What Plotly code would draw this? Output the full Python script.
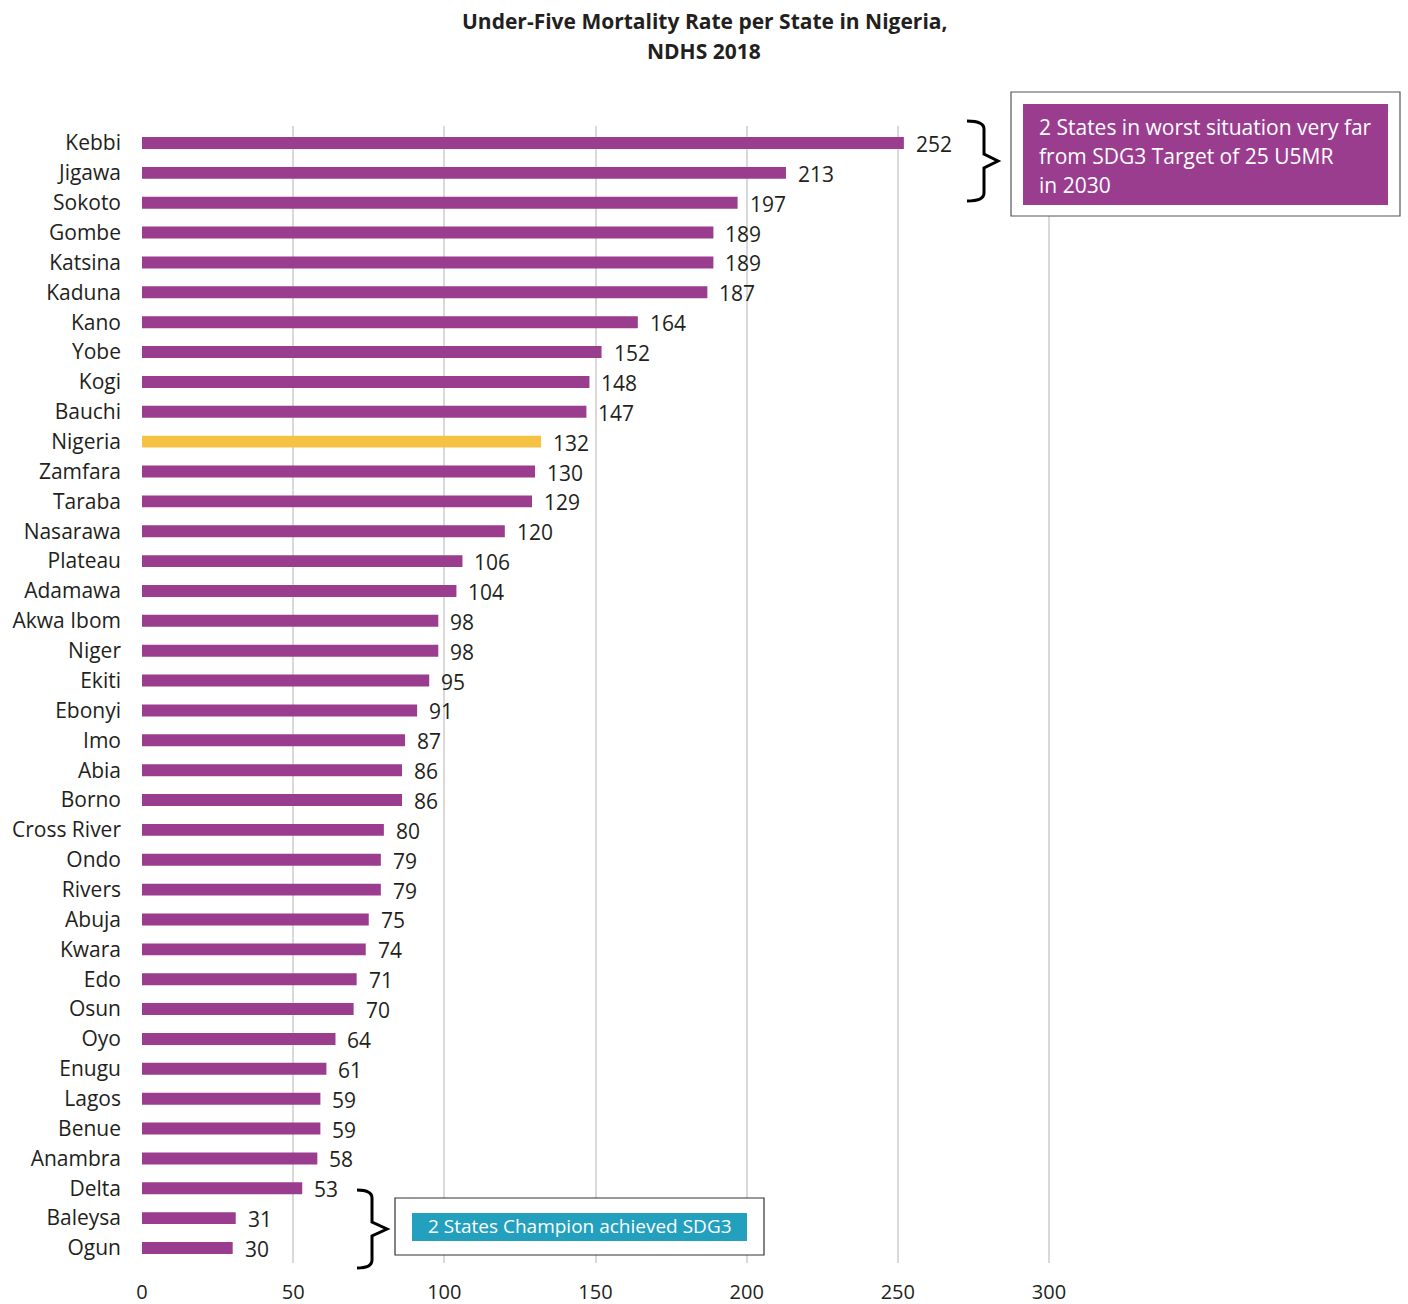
import plotly.graph_objects as go

# Under-five mortality rate (deaths per 1,000 live births), NDHS 2018
states = ["Kebbi", "Jigawa", "Sokoto", "Gombe", "Katsina", "Kaduna", "Kano", "Yobe",
          "Kogi", "Bauchi", "Nigeria", "Zamfara", "Taraba", "Nasarawa", "Plateau",
          "Adamawa", "Akwa Ibom", "Niger", "Ekiti", "Ebonyi", "Imo", "Abia", "Borno",
          "Cross River", "Ondo", "Rivers", "Abuja", "Kwara", "Edo", "Osun", "Oyo",
          "Enugu", "Lagos", "Benue", "Anambra", "Delta", "Baleysa", "Ogun"]
u5mr = [252, 213, 197, 189, 189, 187, 164, 152, 148, 147, 132, 130, 129, 120, 106,
        104, 98, 98, 95, 91, 87, 86, 86, 80, 79, 79, 75, 74, 71, 70, 64,
        61, 59, 59, 58, 53, 31, 30]
x_ticks = [0, 50, 100, 150, 200, 250, 300]

PURPLE = "#9b3d8f"
YELLOW = "#f6c244"
TEAL = "#23a0bd"
FONT = "Open Sans"
INK = "#231f20"

W, H = 1408, 1304
ML, MR, MT, MB = 142, 8, 126, 41
PW, PH = W - ML - MR, H - MT - MB
PX_PER_UNIT = 907 / 300.0
x_max = PW / PX_PER_UNIT

colors = [YELLOW if s == "Nigeria" else PURPLE for s in states]


def px(xp):
    return (xp - ML) / PW


def py(yp):
    return (H - MB - yp) / PH


fig = go.Figure(go.Bar(
    x=u5mr, y=states, orientation="h",
    marker=dict(color=colors, line=dict(width=0)),
    hoverinfo="x+y",
))

annotations = []
for s, v in zip(states, u5mr):
    annotations.append(dict(
        x=v, y=s, xref="x", yref="y", text=str(v), showarrow=False,
        xanchor="left", yanchor="middle", xshift=10, yshift=-1,
        font=dict(family=FONT, size=21, color=INK),
    ))

# title, two centred bold lines
for line, yp in [("Under-Five Mortality Rate per State in Nigeria,", 21),
                 ("NDHS 2018", 51)]:
    annotations.append(dict(
        x=px(W / 2), y=py(yp), xref="paper", yref="paper", showarrow=False,
        xanchor="center", yanchor="middle", text=f"<b>{line}</b>",
        font=dict(family=FONT, size=21, color=INK),
    ))

# callout boxes
shapes = [
    dict(type="rect", xref="paper", yref="paper",
         x0=px(1011), x1=px(1400), y0=py(216), y1=py(92),
         line=dict(color="#555555", width=1.2), fillcolor="white", layer="above"),
    dict(type="rect", xref="paper", yref="paper",
         x0=px(1023), x1=px(1388), y0=py(205), y1=py(104),
         line=dict(width=0), fillcolor=PURPLE, layer="above"),
    dict(type="rect", xref="paper", yref="paper",
         x0=px(395), x1=px(764), y0=py(1255), y1=py(1198),
         line=dict(color="#333333", width=1.2), fillcolor="white", layer="above"),
    dict(type="rect", xref="paper", yref="paper",
         x0=px(412), x1=px(747), y0=py(1241), y1=py(1213),
         line=dict(width=0), fillcolor=TEAL, layer="above"),
]


def brace(x0, xm, xt, ytop, ybot):
    ymid = (ytop + ybot) / 2
    pts = [
        f"M {px(x0)},{py(ytop)}",
        f"Q {px(xm)},{py(ytop)} {px(xm)},{py(ytop + 8)}",
        f"L {px(xm)},{py(ymid - 7)}",
        f"L {px(xt)},{py(ymid)}",
        f"L {px(xm)},{py(ymid + 7)}",
        f"L {px(xm)},{py(ybot - 8)}",
        f"Q {px(xm)},{py(ybot)} {px(x0)},{py(ybot)}",
    ]
    return dict(type="path", xref="paper", yref="paper", path=" ".join(pts),
                line=dict(color="black", width=3), layer="above")


shapes.append(brace(967, 984, 998, 121, 201))
shapes.append(brace(357, 372, 387, 1190, 1268))

for line, yp in [("2 States in worst situation very far", 127),
                 ("from SDG3 Target of 25 U5MR", 156),
                 ("in 2030", 185)]:
    annotations.append(dict(
        x=px(1037), y=py(yp), xref="paper", yref="paper", showarrow=False,
        xanchor="left", yanchor="middle", align="left", text=line,
        font=dict(family=FONT, size=21, color="white"),
    ))
annotations.append(dict(
    x=px(580), y=py(1226), xref="paper", yref="paper", showarrow=False,
    xanchor="center", yanchor="middle",
    text="2 States Champion achieved SDG3",
    font=dict(family=FONT, size=19, color="white"),
))

fig.update_layout(
    width=W, height=H,
    margin=dict(l=ML, r=MR, t=MT, b=MB, autoexpand=False),
    paper_bgcolor="white", plot_bgcolor="white",
    bargap=0.6,
    showlegend=False,
    xaxis=dict(
        range=[0, x_max], tickvals=x_ticks, ticktext=[str(t) for t in x_ticks],
        showgrid=True, gridcolor="#d9d9d9", gridwidth=1.5,
        zeroline=False, showline=False, ticks="",
        tickfont=dict(family=FONT, size=20, color=INK),
        ticklabelstandoff=15, automargin=False, fixedrange=True,
    ),
    yaxis=dict(
        categoryorder="array", categoryarray=states, autorange="reversed",
        showgrid=False, zeroline=False, showline=False, ticks="",
        tickfont=dict(family=FONT, size=21, color=INK),
        ticklabelstandoff=20, automargin=False, fixedrange=True,
    ),
    shapes=shapes,
    annotations=annotations,
)

fig.write_html("out.html")
